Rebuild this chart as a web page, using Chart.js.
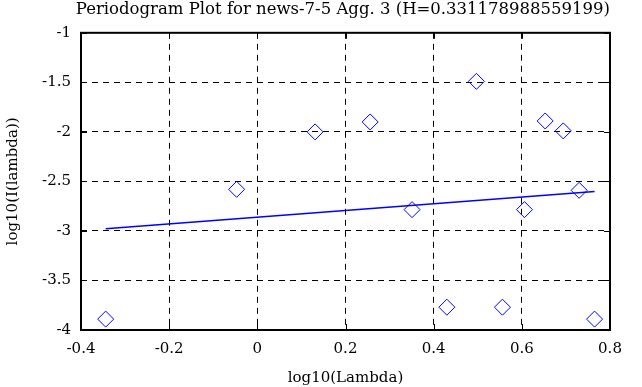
<!DOCTYPE html>
<html>
<head>
<meta charset="utf-8">
<script src="https://cdn.jsdelivr.net/npm/chart.js@4"></script>
<style>
html,body{margin:0;padding:0;background:#fff;}
#wrap{width:642px;height:387px;position:relative;}
</style>
</head>
<body>
<div id="wrap"><canvas id="c"></canvas></div>
<script>
/* periodogram: log10(lambda) vs log10(I(lambda)) + fitted line */
const titleText='Periodogram Plot for news-7-5 Agg. 3 (H=0.331178988559199)';
const logLambda=[-0.344,-0.047,0.131,0.256,0.351,0.430,0.497,0.556,0.606,0.653,0.694,0.730,0.765];
const logI=[-3.89,-2.58,-2.0,-1.90,-2.785,-3.77,-1.49,-3.77,-2.785,-1.89,-1.99,-2.59,-3.89];
const fitX=[-0.344,0.765];
const fitY=[-2.977,-2.601];
const xTicks=[-0.4,-0.2,0,0.2,0.4,0.6,0.8];
const yTicks=[-4,-3.5,-3,-2.5,-2,-1.5,-1];

const FONT="'DejaVu Serif',serif";
Chart.defaults.font.family=FONT;
Chart.defaults.color='#000';

// solid inward tick marks on all four sides, like the original plot
const innerTicks={id:'innerTicks',afterDraw(ch){
  const {ctx,chartArea:a,scales:{x,y}}=ch;const L=6;
  ctx.save();ctx.strokeStyle='#000';ctx.lineWidth=1;ctx.beginPath();
  xTicks.forEach(v=>{const p=Math.round(x.getPixelForValue(v))+0.5;ctx.moveTo(p,a.bottom);ctx.lineTo(p,a.bottom-L);ctx.moveTo(p,a.top);ctx.lineTo(p,a.top+L);});
  yTicks.forEach(v=>{const p=Math.round(y.getPixelForValue(v))+0.5;ctx.moveTo(a.left,p);ctx.lineTo(a.left+L,p);ctx.moveTo(a.right,p);ctx.lineTo(a.right-L,p);});
  ctx.stroke();
  ctx.lineWidth=2;ctx.strokeRect(a.left,a.top,a.right-a.left,a.bottom-a.top);
  ctx.restore();
}};

new Chart(document.getElementById('c'),{
  type:'scatter',
  data:{datasets:[
    {label:'data',data:logLambda.map((v,i)=>({x:v,y:logI[i]})),pointStyle:'rectRot',pointRadius:8,pointBorderWidth:1,borderColor:'#0000ff',backgroundColor:'rgba(0,0,0,0)',showLine:false},
    {label:'fit',data:fitX.map((v,i)=>({x:v,y:fitY[i]})),showLine:true,borderColor:'#0000ff',borderWidth:1.5,pointRadius:0,fill:false}
  ]},
  options:{
    responsive:true,maintainAspectRatio:false,animation:false,
    layout:{padding:{left:0,right:32,top:0,bottom:0}},
    plugins:{legend:{display:false},tooltip:{enabled:false},
      title:{display:true,align:'end',text:titleText,font:{size:16.5,weight:'normal'},color:'#000',padding:{top:0,bottom:13}}},
    scales:{
      x:{type:'linear',min:-0.4,max:0.8,
        afterBuildTicks:s=>{s.ticks=xTicks.map(v=>({value:v}));},
        afterFit:s=>{s.height=57;},
        grid:{color:'#000',lineWidth:1,drawTicks:false},
        border:{display:false,dash:[6,5]},
        ticks:{padding:10,font:{size:15},color:'#000',callback:v=>String(+v.toFixed(1))},
        title:{display:true,text:'log10(Lambda)',font:{size:15},color:'#000',padding:{top:1,bottom:0}}},
      y:{type:'linear',min:-4,max:-1,
        afterBuildTicks:s=>{s.ticks=yTicks.map(v=>({value:v}));},
        afterFit:s=>{s.width=81;},
        grid:{color:'#000',lineWidth:1,drawTicks:false},
        border:{display:false,dash:[6,5]},
        ticks:{padding:10,font:{size:15},color:'#000',callback:v=>String(+v.toFixed(1))},
        title:{display:true,text:'log10(I(lambda))',font:{size:15},color:'#000',padding:{top:4,bottom:4}}}
    }
  },
  plugins:[innerTicks]
});
</script>
</body>
</html>
